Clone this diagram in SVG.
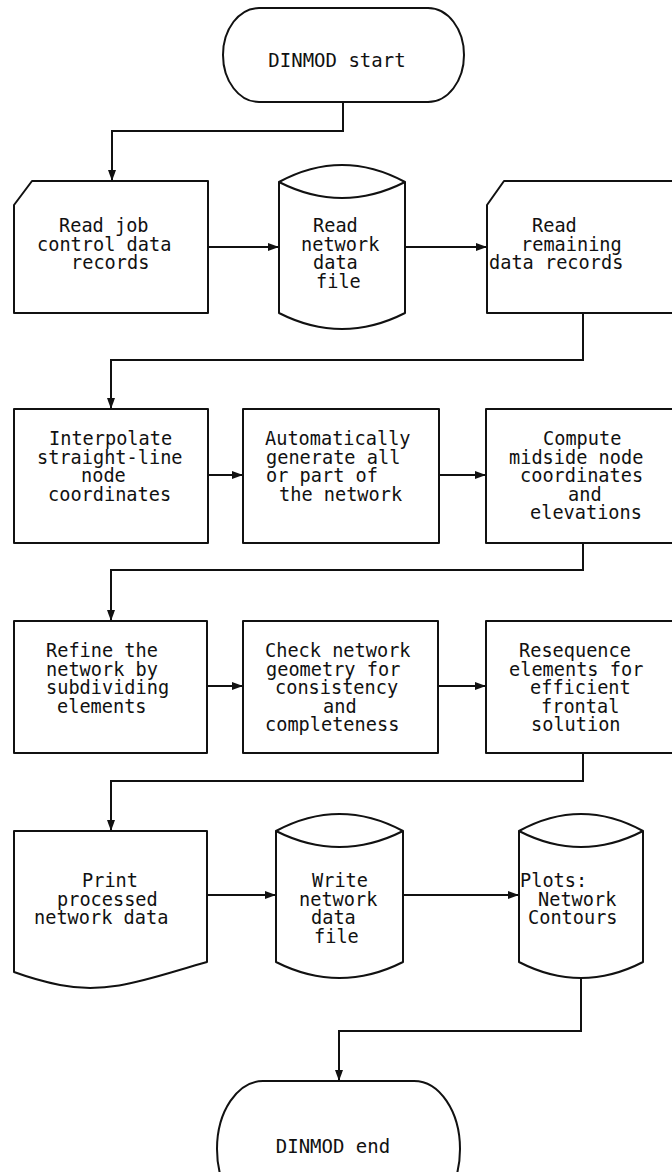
<svg xmlns="http://www.w3.org/2000/svg" width="672" height="1172" viewBox="0 0 672 1172">
<defs>
<style>
.s{fill:#fff;stroke:#111;stroke-width:2;stroke-linejoin:round}
.c{fill:none;stroke:#111;stroke-width:2}
.t{font-family:"DejaVu Sans Mono","Liberation Mono",monospace;font-size:18.6px;fill:#111}
.tt{font-family:"DejaVu Sans Mono","Liberation Mono",monospace;font-size:19px;fill:#111;text-anchor:middle}
</style>
<marker id="ah" markerUnits="userSpaceOnUse" markerWidth="12" markerHeight="8" refX="11" refY="4" orient="auto">
<path d="M0,0 L11,4 L0,8 z" fill="#111"/>
</marker>
</defs>
<rect width="672" height="1172" fill="#fff"/>

<g id="connectors">
<path class="c" d="M343,102 V131 H112 V181" marker-end="url(#ah)"/>
<path class="c" d="M208,247 H279" marker-end="url(#ah)"/>
<path class="c" d="M405,247 H487" marker-end="url(#ah)"/>
<path class="c" d="M583,313 V360 H111 V409" marker-end="url(#ah)"/>
<path class="c" d="M208,475 H243" marker-end="url(#ah)"/>
<path class="c" d="M439,475 H486" marker-end="url(#ah)"/>
<path class="c" d="M583,543 V570 H111 V621" marker-end="url(#ah)"/>
<path class="c" d="M207,686 H243" marker-end="url(#ah)"/>
<path class="c" d="M438,686 H486" marker-end="url(#ah)"/>
<path class="c" d="M583,753 V781 H111 V831" marker-end="url(#ah)"/>
<path class="c" d="M207,895 H276" marker-end="url(#ah)"/>
<path class="c" d="M403,895 H519" marker-end="url(#ah)"/>
<path class="c" d="M581,978 V1031 H339 V1081" marker-end="url(#ah)"/>
</g>

<g id="start">
<rect class="s" x="223" y="8" width="241" height="94" rx="36" ry="47"/>
<text class="tt" x="337" y="67">DINMOD start</text>
</g>

<g id="read-job">
<path class="s" d="M32,181 H208 V313 H14 V205 Z"/>
<text class="t" x="59" y="232">Read job</text>
<text class="t" x="37" y="250.5">control data</text>
<text class="t" x="71" y="269">records</text>
</g>

<g id="read-network">
<path class="s" d="M279,182 Q342,148 405,182 V313 Q342,345 279,313 Z"/>
<path class="c" d="M279,182 Q342,214 405,182"/>
<text class="t" x="313" y="232">Read</text>
<text class="t" x="301" y="250.5">network</text>
<text class="t" x="313" y="269">data</text>
<text class="t" x="316" y="287.5">file</text>
</g>

<g id="read-remaining">
<path class="s" d="M504,181 H682 V313 H487 V205 Z"/>
<text class="t" x="532" y="232">Read</text>
<text class="t" x="521" y="250.5">remaining</text>
<text class="t" x="489" y="269">data records</text>
</g>

<g id="interpolate">
<rect class="s" x="14" y="409" width="194" height="134"/>
<text class="t" x="49" y="445">Interpolate</text>
<text class="t" x="37" y="463.5">straight-line</text>
<text class="t" x="81" y="482">node</text>
<text class="t" x="48" y="500.5">coordinates</text>
</g>

<g id="generate">
<rect class="s" x="243" y="409" width="196" height="134"/>
<text class="t" x="265" y="445">Automatically</text>
<text class="t" x="266" y="463.5">generate all</text>
<text class="t" x="266" y="482">or part of</text>
<text class="t" x="279" y="500.5">the network</text>
</g>

<g id="midside">
<rect class="s" x="486" y="409" width="196" height="134"/>
<text class="t" x="543" y="445">Compute</text>
<text class="t" x="509" y="463.5">midside node</text>
<text class="t" x="520" y="482">coordinates</text>
<text class="t" x="568" y="500.5">and</text>
<text class="t" x="530" y="519">elevations</text>
</g>

<g id="refine">
<rect class="s" x="14" y="621" width="193" height="132"/>
<text class="t" x="46" y="657">Refine the</text>
<text class="t" x="46" y="675.5">network by</text>
<text class="t" x="46" y="694">subdividing</text>
<text class="t" x="57" y="712.5">elements</text>
</g>

<g id="check">
<rect class="s" x="243" y="621" width="195" height="132"/>
<text class="t" x="265" y="657">Check network</text>
<text class="t" x="266" y="675.5">geometry for</text>
<text class="t" x="275" y="694">consistency</text>
<text class="t" x="323" y="712.5">and</text>
<text class="t" x="265" y="731">completeness</text>
</g>

<g id="resequence">
<rect class="s" x="486" y="621" width="196" height="132"/>
<text class="t" x="519" y="657">Resequence</text>
<text class="t" x="509" y="675.5">elements for</text>
<text class="t" x="530" y="694">efficient</text>
<text class="t" x="541" y="712.5">frontal</text>
<text class="t" x="531" y="731">solution</text>
</g>

<g id="print">
<path class="s" d="M14,831 H207 V962 C150,978 110,995 60,985 C40,981 25,976 14,972 Z"/>
<text class="t" x="82" y="887">Print</text>
<text class="t" x="57" y="905.5">processed</text>
<text class="t" x="34" y="924">network data</text>
</g>

<g id="write-network">
<path class="s" d="M276,831 Q339.5,797 403,831 V962 Q339.5,994 276,962 Z"/>
<path class="c" d="M276,831 Q339.5,863 403,831"/>
<text class="t" x="312" y="887">Write</text>
<text class="t" x="299" y="905.5">network</text>
<text class="t" x="311" y="924">data</text>
<text class="t" x="314" y="942.5">file</text>
</g>

<g id="plots">
<path class="s" d="M519,831 Q581,797 643,831 V962 Q581,994 519,962 Z"/>
<path class="c" d="M519,831 Q581,863 643,831"/>
<text class="t" x="520" y="887">Plots:</text>
<text class="t" x="538" y="905.5">Network</text>
<text class="t" x="528" y="924">Contours</text>
</g>

<g id="end">
<rect class="s" x="217" y="1081" width="243" height="136" rx="46" ry="68"/>
<text class="tt" x="333" y="1153">DINMOD end</text>
</g>
</svg>
